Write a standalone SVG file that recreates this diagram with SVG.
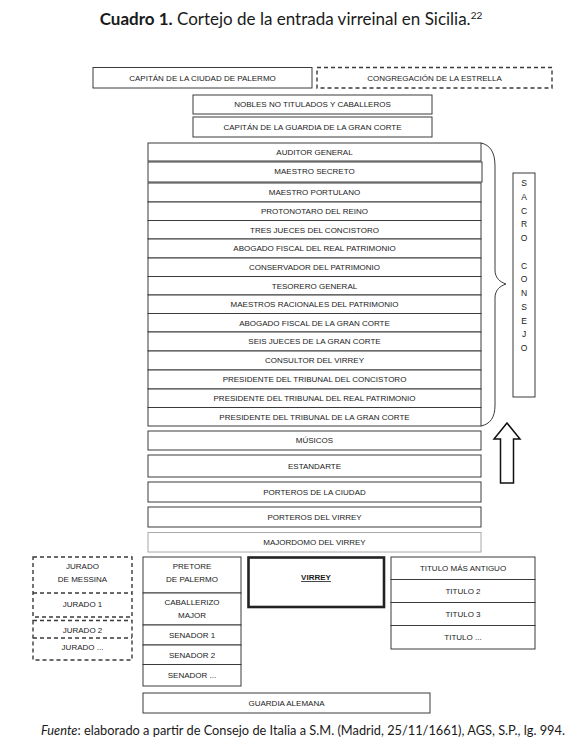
<svg xmlns="http://www.w3.org/2000/svg" width="580" height="754" viewBox="0 0 580 754">
<style>
  .bx { fill: #ffffff; stroke: #3a3a3a; stroke-width: 1; }
  .dash { fill: #ffffff; stroke: #3a3a3a; stroke-width: 1.4; stroke-dasharray: 4 3; }
  .light { fill: #ffffff; stroke: #a8a8a8; stroke-width: 1; }
  .thick { fill: #ffffff; stroke: #222222; stroke-width: 2.6; }
  .t { font-family: "Liberation Sans", Arial, sans-serif; font-size: 8px; fill: #1a1a1a; text-anchor: middle; }
  .v { font-family: "Liberation Sans", Arial, sans-serif; font-size: 8.5px; fill: #1a1a1a; text-anchor: middle; }
  .ttl { font-family: Lato, "Open Sans", sans-serif; font-size: 17px; fill: #1a1a1a; text-anchor: middle; }
  .foot { font-family: Lato, "Open Sans", sans-serif; font-size: 12.8px; fill: #1a1a1a; text-anchor: middle; }
  .conn { fill: none; stroke: #3a3a3a; stroke-width: 1; }
  .arrow { fill: #ffffff; stroke: #111111; stroke-width: 1.5; stroke-linejoin: miter; }
</style>

<text class="ttl" x="291" y="25"><tspan font-weight="bold">Cuadro 1.</tspan> Cortejo de la entrada virreinal en Sicilia.<tspan font-size="10" dy="-6.5">22</tspan></text>

<g id="capitan-ciudad"><rect class="bx" x="93" y="67.5" width="219" height="20.5"/><text class="t" x="202.5" y="80.8">CAPITÁN DE LA CIUDAD DE PALERMO</text></g>
<g id="congregacion"><rect class="dash" x="317" y="67.5" width="235" height="20.5"/><text class="t" x="434.5" y="80.8">CONGREGACIÓN DE LA ESTRELLA</text></g>
<g id="nobles"><rect class="bx" x="193" y="95" width="239" height="19"/><text class="t" x="312.5" y="107.3">NOBLES NO TITULADOS Y CABALLEROS</text></g>
<g id="capitan-guardia"><rect class="bx" x="193" y="117" width="239" height="20"/><text class="t" x="312.5" y="129.8">CAPITÁN DE LA GUARDIA DE LA GRAN CORTE</text></g>

<g id="auditor"><rect class="bx" x="148" y="143" width="333" height="18"/><text class="t" x="314.5" y="154.8">AUDITOR GENERAL</text></g>
<g id="maestro-secreto"><rect class="bx" x="148" y="162" width="334" height="20"/><text class="t" x="314.5" y="173.8">MAESTRO SECRETO</text></g>
<g id="maestro-portulano"><rect class="bx" x="148" y="183" width="333" height="19"/><text class="t" x="314.5" y="195.3">MAESTRO PORTULANO</text></g>
<g id="protonotaro"><rect class="bx" x="148" y="202" width="333" height="18.5"/><text class="t" x="314.5" y="214">PROTONOTARO DEL REINO</text></g>
<g id="tres-jueces"><rect class="bx" x="148" y="220.5" width="333" height="18.5"/><text class="t" x="314.5" y="232.5">TRES JUECES DEL CONCISTORO</text></g>
<g id="abogado-real"><rect class="bx" x="148" y="239" width="333" height="19"/><text class="t" x="314.5" y="251.3">ABOGADO FISCAL DEL REAL PATRIMONIO</text></g>
<g id="conservador"><rect class="bx" x="148" y="258" width="333" height="18.5"/><text class="t" x="314.5" y="270">CONSERVADOR DEL PATRIMONIO</text></g>
<g id="tesorero"><rect class="bx" x="148" y="276.5" width="333" height="18.5"/><text class="t" x="314.5" y="288.5">TESORERO GENERAL</text></g>
<g id="maestros-racionales"><rect class="bx" x="148" y="295" width="333" height="18.5"/><text class="t" x="314.5" y="307">MAESTROS RACIONALES DEL PATRIMONIO</text></g>
<g id="abogado-gran-corte"><rect class="bx" x="148" y="313.5" width="333" height="18.5"/><text class="t" x="314.5" y="325.5">ABOGADO FISCAL DE LA GRAN CORTE</text></g>
<g id="seis-jueces"><rect class="bx" x="148" y="332" width="333" height="19"/><text class="t" x="314.5" y="344.3">SEIS JUECES DE LA GRAN CORTE</text></g>
<g id="consultor"><rect class="bx" x="148" y="351" width="333" height="19"/><text class="t" x="314.5" y="363.3">CONSULTOR DEL VIRREY</text></g>
<g id="pres-concistoro"><rect class="bx" x="148" y="370" width="333" height="19"/><text class="t" x="314.5" y="382.3">PRESIDENTE DEL TRIBUNAL DEL CONCISTORO</text></g>
<g id="pres-real"><rect class="bx" x="148" y="389" width="333" height="18.5"/><text class="t" x="314.5" y="401">PRESIDENTE DEL TRIBUNAL DEL REAL PATRIMONIO</text></g>
<g id="pres-gran-corte"><rect class="bx" x="148" y="407.5" width="333" height="18.5"/><text class="t" x="314.5" y="419.5">PRESIDENTE DEL TRIBUNAL DE LA GRAN CORTE</text></g>

<g id="sacro-consejo"><rect class="bx" x="513" y="173" width="22" height="224"/>
<text class="v" x="524"><tspan x="524" y="186">S</tspan><tspan x="524" y="199.8">A</tspan><tspan x="524" y="213.5">C</tspan><tspan x="524" y="227.3">R</tspan><tspan x="524" y="241">O</tspan><tspan x="524" y="268.5">C</tspan><tspan x="524" y="282.3">O</tspan><tspan x="524" y="296">N</tspan><tspan x="524" y="309.8">S</tspan><tspan x="524" y="323.5">E</tspan><tspan x="524" y="337.3">J</tspan><tspan x="524" y="351">O</tspan></text></g>

<g id="musicos"><rect class="bx" x="148" y="431" width="333" height="19"/><text class="t" x="314.5" y="443.3">MÚSICOS</text></g>
<g id="estandarte"><rect class="bx" x="148" y="455" width="333" height="22"/><text class="t" x="314.5" y="468.8">ESTANDARTE</text></g>
<g id="porteros-ciudad"><rect class="bx" x="148" y="482" width="333" height="20"/><text class="t" x="314.5" y="494.8">PORTEROS DE LA CIUDAD</text></g>
<g id="porteros-virrey"><rect class="bx" x="148" y="507" width="333" height="20"/><text class="t" x="314.5" y="519.8">PORTEROS DEL VIRREY</text></g>
<g id="majordomo"><rect class="light" x="148" y="532.5" width="333" height="19.5"/><text class="t" x="314.5" y="545">MAJORDOMO DEL VIRREY</text></g>

<g id="jurado-messina"><rect class="dash" x="33" y="557" width="99" height="60"/><line class="dash" x1="33" y1="593" x2="132" y2="593"/>
<text class="t" x="82.5" y="569">JURADO</text><text class="t" x="82.5" y="581.5">DE MESSINA</text><text class="t" x="82.5" y="607">JURADO 1</text></g>
<g id="jurado-2"><rect class="dash" x="33" y="620.5" width="99" height="39.5"/><line class="dash" x1="33" y1="638" x2="132" y2="638"/>
<text class="t" x="82.5" y="632.5">JURADO 2</text><text class="t" x="82.5" y="650">JURADO ...</text></g>

<g id="pretore"><rect class="bx" x="143" y="557" width="98" height="36"/><text class="t" x="192" y="569">PRETORE</text><text class="t" x="192" y="581.5">DE PALERMO</text></g>
<g id="caballerizo"><rect class="bx" x="143" y="593" width="98" height="32"/><text class="t" x="192" y="605">CABALLERIZO</text><text class="t" x="192" y="618">MAJOR</text></g>
<g id="senador-1"><rect class="bx" x="143" y="625" width="98" height="20"/><text class="t" x="192" y="637.8">SENADOR 1</text></g>
<g id="senador-2"><rect class="bx" x="143" y="645" width="98" height="19.5"/><text class="t" x="192" y="657.5">SENADOR 2</text></g>
<g id="senador-3"><rect class="bx" x="143" y="664.5" width="98" height="21.5"/><text class="t" x="192" y="678">SENADOR ...</text></g>

<g id="virrey"><rect class="thick" x="248.5" y="557.5" width="135.5" height="49.5"/><text class="t" x="316" y="580" font-weight="bold" text-decoration="underline">VIRREY</text></g>

<g id="titulo-1"><rect class="bx" x="391" y="557" width="144" height="22.5"/><text class="t" x="463" y="570.5">TITULO MÁS ANTIGUO</text></g>
<g id="titulo-2"><rect class="bx" x="391" y="579.5" width="144" height="23"/><text class="t" x="463" y="593.5">TITULO 2</text></g>
<g id="titulo-3"><rect class="bx" x="391" y="602.5" width="144" height="23"/><text class="t" x="463" y="616.5">TITULO 3</text></g>
<g id="titulo-4"><rect class="bx" x="391" y="625.5" width="144" height="23.5"/><text class="t" x="463" y="639.5">TITULO ...</text></g>

<g id="guardia"><rect class="bx" x="143" y="693" width="287" height="20"/><text class="t" x="286.5" y="705.8">GUARDIA ALEMANA</text></g>

<g id="connectors">
  <path class="conn" d="M481,143 C490,145 495,152 495,166 L495,270 C495,278 500,282 506,284 C500,286 495,290 495,298 L495,405 C495,418 490,424 481,426"/>
  <path class="arrow" d="M507,423 L520,439 L513.5,439 L513.5,483 L500.5,483 L500.5,439 L494,439 Z"/>
</g>

<text class="foot" x="303" y="735"><tspan font-style="italic">Fuente</tspan>: elaborado a partir de Consejo de Italia a S.M. (Madrid, 25/11/1661), AGS, S.P., lg. 994.</text>
</svg>
